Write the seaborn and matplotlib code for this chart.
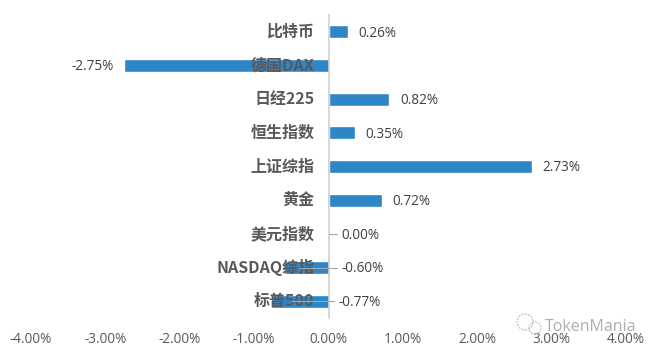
import matplotlib
matplotlib.use('Agg')
import matplotlib.pyplot as plt
from matplotlib.patches import Circle
import pandas as pd
import seaborn as sns

# Values (percent)
assets = ['比特币', '德国DAX', '日经225', '恒生指数', '上证综指', '黄金', '美元指数', 'NASDAQ综指', '标普500']
changes = [0.26, -2.75, 0.82, 0.35, 2.73, 0.72, 0.00, -0.60, -0.77]
x_ticks = [-4, -3, -2, -1, 0, 1, 2, 3, 4]

df = pd.DataFrame({'asset': assets, 'change': changes})

sns.set_theme(style='white')
plt.rcParams['font.family'] = ['Noto Sans CJK SC', 'DejaVu Sans']

W, H = 658, 353
fig = plt.figure(figsize=(W / 100, H / 100), dpi=100)
ax = fig.add_axes([31 / W, 1 - 318 / H, 595 / W, 303 / H])

sns.barplot(data=df, x='change', y='asset', orient='h', color='#2e86c8', saturation=1, width=0.38, ax=ax)

ax.set_xlim(-4, 4)
ax.set_ylim(8.5, -0.5)
ax.set_xlabel('')
ax.set_ylabel('')
ax.set_axisbelow(False)

# Zero line carries the category labels, like the Excel original
for side in ['top', 'right', 'bottom']:
    ax.spines[side].set_visible(False)
ax.spines['left'].set_position(('data', 0))
ax.spines['left'].set_color('#d0d0d0')
ax.spines['left'].set_linewidth(1.2)

ax.set_xticks(x_ticks)
ax.set_xticklabels([f'{t:.2f}%' for t in x_ticks], fontsize=9.8, color='#595959', family='Open Sans')
ax.tick_params(axis='x', length=0, pad=10)
ax.tick_params(axis='y', length=0, pad=10)
for lab in ax.get_yticklabels():
    lab.set_fontsize(11.5)
    lab.set_fontweight('bold')
    lab.set_color('#595959')
    lab.set_verticalalignment('center')

# Data labels
for i, v in enumerate(changes):
    txt = f'{v:.2f}%'
    if v > 0:
        pos, off, ha = v, 7.5, 'left'
    elif v < -1:
        pos, off, ha = v, -7, 'right'
    else:
        pos, ha = 0, 'left'
        off = 7.5 if v < -0.7 else 9.5
    ax.annotate(txt, (pos, i), xytext=(off, -1), textcoords='offset points', ha=ha, va='center',
                fontsize=9.8, color='#404040', family='Open Sans')

# Leader lines on the small bars
for i, v in enumerate(changes):
    if -1 < v <= 0:
        end = 0.08 if v < -0.7 else 0.12
        ax.plot([v * 0.65, end], [i, i], color='#a6a6a6', lw=0.8, zorder=4)

# Watermark
fig.text(545 / W, 1 - 327 / H, 'TokenMania', fontsize=11.5, color='#9a9a9a', alpha=0.8, va='center', family='Open Sans')
for cx, cy, r in [(525, 322, 8), (535, 328, 6)]:
    fig.add_artist(Circle((cx, H - cy), r, fill=False, ec='#bdbdbd', lw=0.8, ls=(0, (2, 1)), transform=None))

fig.savefig('out.png', dpi=100)
